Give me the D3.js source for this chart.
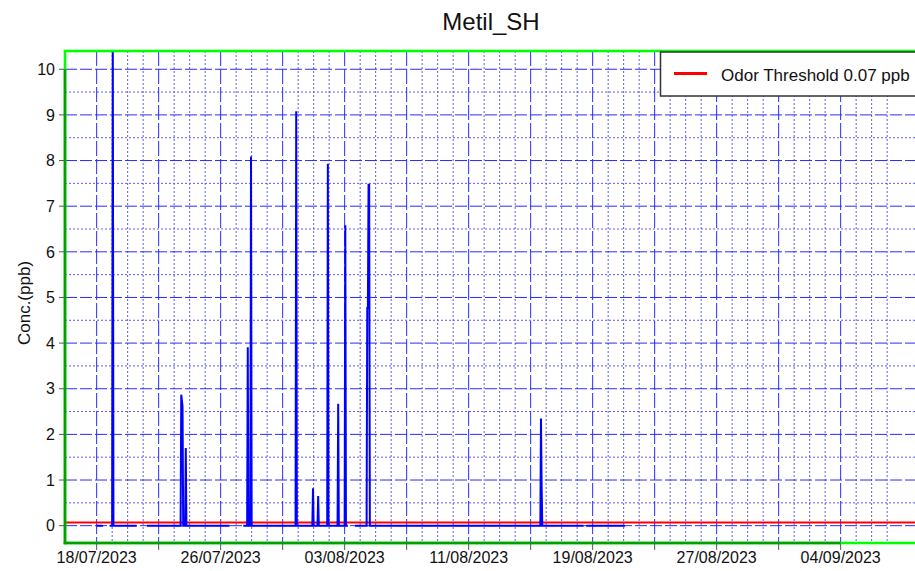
<!DOCTYPE html>
<html><head><meta charset="utf-8">
<script src="https://cdn.jsdelivr.net/npm/d3@7"></script>
<style>html,body{margin:0;padding:0;background:#fff;} svg{display:block;font-family:"Liberation Sans",Arial,sans-serif;}</style>
</head><body><svg id="chart" width="915" height="571"></svg>
<script>
const chartTitle = "Metil_SH";
const yAxisTitle = "Conc.(ppb)";
const legendLabel = "Odor Threshold 0.07 ppb";
const odorThreshold = 0.07;

const sampleTimes = [
  "2023-07-18 00:00","2023-07-18 10:00","2023-07-18 15:00","2023-07-18 20:00",
  "2023-07-19 00:00","2023-07-19 01:00","2023-07-19 02:00",
  "2023-07-20 14:00","2023-07-20 22:00","2023-07-21 06:00",
  "2023-07-23 10:00","2023-07-23 11:00","2023-07-23 13:00","2023-07-23 14:00",
  "2023-07-23 17:00","2023-07-23 18:00","2023-07-23 19:00",
  "2023-07-26 14:00","2023-07-27 00:00","2023-07-27 11:00",
  "2023-07-27 17:00","2023-07-27 18:00","2023-07-27 19:00",
  "2023-07-27 22:00","2023-07-27 23:00","2023-07-28 00:00",
  "2023-07-30 20:00","2023-07-30 21:00","2023-07-30 22:00",
  "2023-07-31 22:00","2023-07-31 23:00","2023-08-01 00:00",
  "2023-08-01 06:00","2023-08-01 07:00","2023-08-01 08:00",
  "2023-08-01 21:00","2023-08-01 22:00","2023-08-01 23:00",
  "2023-08-02 13:00","2023-08-02 14:00","2023-08-02 15:00",
  "2023-08-03 00:00","2023-08-03 01:00","2023-08-03 02:00",
  "2023-08-03 05:00","2023-08-03 10:00","2023-08-03 16:00",
  "2023-08-04 10:00","2023-08-04 11:00","2023-08-04 12:00","2023-08-04 13:00","2023-08-04 14:00","2023-08-04 15:00",
  "2023-08-15 15:00","2023-08-15 16:00","2023-08-15 17:00","2023-08-15 18:00",
  "2023-08-18 10:00","2023-08-18 12:00","2023-08-18 14:00",
  "2023-08-21 02:00"
];
const concValues = [
  0, 0, null, 0,
  0, 10.9, 0,
  0, null, 0,
  0, 2.87, 2.61, 0,
  0, 1.70, 0,
  0, null, 0,
  0, 3.91, 0,
  0, 8.09, 0,
  0, 9.08, 0,
  0, 0.82, 0,
  0, 0.65, 0,
  0, 7.93, 0,
  0, 2.67, 0,
  0, 6.58, 0,
  0, null, 0,
  0, 4.77, 4.77, 7.47, 7.47, 0,
  0, 2.35, 0.87, 0,
  0, null, 0,
  0
];

const xDomain = ["2023-07-15 23:00", "2023-09-09 00:00"];
const yDomain = [-0.38, 10.4];
const xMajorTicks = ["2023-07-18","2023-07-22","2023-07-26","2023-07-30","2023-08-03","2023-08-07","2023-08-11","2023-08-15","2023-08-19","2023-08-23","2023-08-27","2023-08-31","2023-09-04"];
const xLabelTicks = ["2023-07-18","2023-07-26","2023-08-03","2023-08-11","2023-08-19","2023-08-27","2023-09-04"];
const xMinorRange = ["2023-07-19","2023-09-08"];
const yMajorTicks = [0,1,2,3,4,5,6,7,8,9,10];
const yMinorTicks = [0.5,1.5,2.5,3.5,4.5,5.5,6.5,7.5,8.5,9.5];

const parseTime = d3.timeParse("%Y-%m-%d %H:%M");
const parseDay = d3.timeParse("%Y-%m-%d");
const fmt = d3.timeFormat("%d/%m/%Y");

const L = 65, T = 51, B = 543, R = 918.15;
const svg = d3.select("#chart");

const x = d3.scaleTime().domain(xDomain.map(parseTime)).range([L, R]);
const y = d3.scaleLinear().domain(yDomain).range([B, T]);

const majorDates = xMajorTicks.map(parseDay);
const majorSet = new Set(majorDates.map(d => +d));
const minorDates = d3.timeDay.range(parseDay(xMinorRange[0]), parseDay(xMinorRange[1])).filter(d => !majorSet.has(+d));

svg.append("defs").append("clipPath").attr("id","plotclip")
  .append("rect").attr("x", L).attr("y", T).attr("width", R - L).attr("height", B - T);

const grid = svg.append("g");
grid.selectAll(".vmin").data(minorDates).join("line")
  .attr("x1", d => x(d)).attr("x2", d => x(d)).attr("y1", T).attr("y2", B)
  .attr("stroke", "#5a5aff").attr("stroke-width", 1).attr("stroke-dasharray", "2,2");
grid.selectAll(".hmin").data(yMinorTicks).join("line")
  .attr("x1", L).attr("x2", R).attr("y1", d => y(d)).attr("y2", d => y(d))
  .attr("stroke", "#5a5aff").attr("stroke-width", 1).attr("stroke-dasharray", "2,2");
grid.selectAll(".vmaj").data(majorDates).join("line")
  .attr("x1", d => x(d)).attr("x2", d => x(d)).attr("y1", T).attr("y2", B)
  .attr("stroke", "#2a2aff").attr("stroke-width", 1).attr("stroke-dasharray", "15,3");
grid.selectAll(".hmaj").data(yMajorTicks).join("line")
  .attr("x1", L).attr("x2", R).attr("y1", d => y(d)).attr("y2", d => y(d))
  .attr("stroke", "#2a2aff").attr("stroke-width", 1).attr("stroke-dasharray", "12,3");

const plot = svg.append("g").attr("clip-path", "url(#plotclip)");
plot.append("line")
  .attr("x1", x.range()[0]).attr("x2", x.range()[1])
  .attr("y1", y(odorThreshold)).attr("y2", y(odorThreshold))
  .attr("stroke", "#ff0000").attr("stroke-width", 2);

const series = sampleTimes.map((t, i) => ({ t: parseTime(t), v: concValues[i] }));
const line = d3.line().defined(d => d.v !== null).x(d => x(d.t)).y(d => y(d.v));
plot.append("path").datum(series).attr("d", line)
  .attr("fill", "none").attr("stroke", "#0000ff").attr("stroke-width", 2);

svg.append("rect").attr("x", L).attr("y", T).attr("width", R - L + 20).attr("height", B - T)
  .attr("fill", "none").attr("stroke", "#00ff00").attr("stroke-width", 2.6);
svg.append("line").attr("x1", L).attr("x2", L).attr("y1", B + 1.3).attr("y2", y(yMajorTicks[yMajorTicks.length - 1]))
  .attr("stroke", "#00a000").attr("stroke-width", 2.6);
svg.append("line").attr("x1", L - 1.3).attr("x2", x(majorDates[majorDates.length - 1])).attr("y1", B).attr("y2", B)
  .attr("stroke", "#00a000").attr("stroke-width", 2.6);

svg.selectAll(".ytk").data(yMajorTicks).join("line")
  .attr("x1", L - 6).attr("x2", L - 1).attr("y1", d => y(d)).attr("y2", d => y(d))
  .attr("stroke", "#555").attr("stroke-width", 1);
svg.selectAll(".xtk").data(majorDates).join("line")
  .attr("x1", d => x(d)).attr("x2", d => x(d)).attr("y1", B + 1).attr("y2", B + 7)
  .attr("stroke", "#555").attr("stroke-width", 1);

svg.selectAll(".ylab").data(yMajorTicks).join("text")
  .attr("x", 55).attr("y", d => y(d)).attr("dy", "0.36em")
  .attr("text-anchor", "end").attr("font-size", 16).attr("fill", "#111").text(d => d);
svg.selectAll(".xlab").data(xLabelTicks.map(parseDay)).join("text")
  .attr("x", d => x(d)).attr("y", 563)
  .attr("text-anchor", "middle").attr("font-size", 16).attr("fill", "#111").text(d => fmt(d));

svg.append("text").attr("x", 491).attr("y", 30).attr("text-anchor", "middle")
  .attr("font-size", 24).attr("fill", "#111").text(chartTitle);
svg.append("text").attr("transform", "translate(30,303) rotate(-90)").attr("text-anchor", "middle")
  .attr("font-size", 17).attr("fill", "#111").text(yAxisTitle);

const lg = svg.append("g");
lg.append("rect").attr("x", 660.5).attr("y", 52).attr("width", 280).attr("height", 44)
  .attr("fill", "#fff").attr("stroke", "#333").attr("stroke-width", 1.5);
lg.append("line").attr("x1", 674).attr("x2", 707).attr("y1", 73.5).attr("y2", 73.5)
  .attr("stroke", "#ff0000").attr("stroke-width", 3);
lg.append("text").attr("x", 721).attr("y", 80.5).attr("font-size", 17).attr("fill", "#111").text(legendLabel);
</script></body></html>
